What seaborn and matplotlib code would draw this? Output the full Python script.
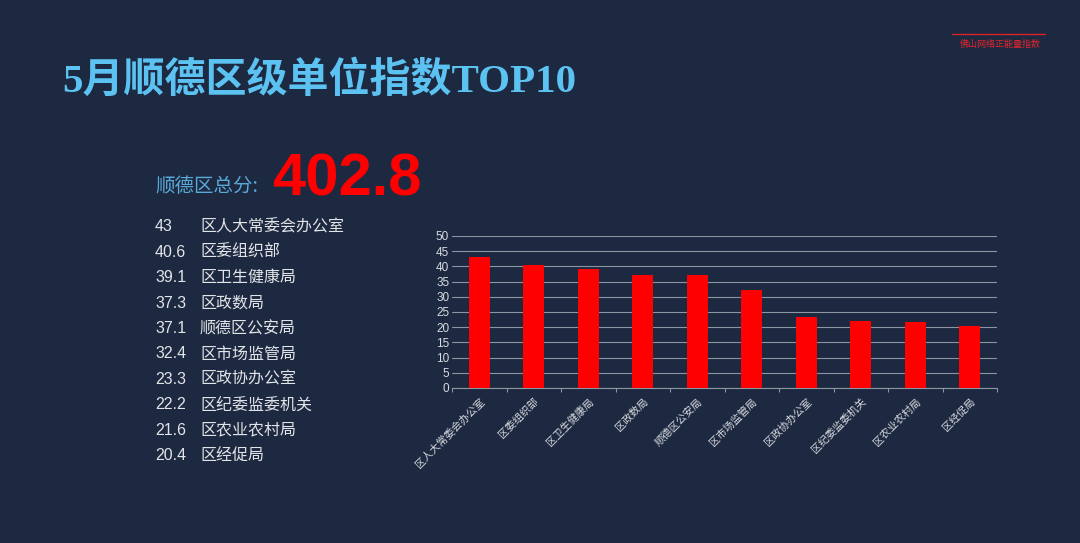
import numpy as np
import pandas as pd
import matplotlib
matplotlib.use("Agg")
import matplotlib.pyplot as plt
import seaborn as sns

units = ["区人大常委会办公室", "区委组织部", "区卫生健康局", "区政数局", "顺德区公安局",
         "区市场监管局", "区政协办公室", "区纪委监委机关", "区农业农村局", "区经促局"]
scores = [43, 40.6, 39.1, 37.3, 37.1, 32.4, 23.3, 22.2, 21.6, 20.4]
score_labels = ["43", "40.6", "39.1", "37.3", "37.1", "32.4", "23.3", "22.2", "21.6", "20.4"]
total = "402.8"
yticks = [0, 5, 10, 15, 20, 25, 30, 35, 40, 45, 50]

sns.set_theme(style="dark")
plt.rcParams['font.family'] = ['Noto Sans CJK SC', 'DejaVu Sans']
bg = "#1d2940"
fig = plt.figure(figsize=(10.8, 5.43), dpi=100, facecolor=bg)

# Title
fig.text(62/1080, 1-81/543, "5月顺德区级单位指数TOP10", color="#5cc2f2", fontsize=29.5,
         fontweight="bold", va="center", ha="left",
         family=["Liberation Serif", "Noto Sans CJK SC"])
# top-right brand
fig.add_artist(plt.Line2D([952/1080, 1045/1080], [1-34/543, 1-34/543], color="#d8232a", lw=1.0))
fig.text(1000/1080, 1-44/543, "佛山网络正能量指数", color="#e0262e", fontsize=6.5,
         va="center", ha="center")

# total
fig.text(155/1080, 1-187/543, "顺德区总分:", color="#5aa8d8", fontsize=14, va="center", ha="left")
fig.text(272/1080, 1-180/543, total, color="#ff0000", fontsize=43, fontweight="bold",
         va="center", ha="left", family=["Liberation Sans", "DejaVu Sans"])

# list
for i, (s, u) in enumerate(zip(score_labels, units)):
    y = 1 - (227 + i * 25.4) / 543
    fig.text(155/1080, y, s, color="#e2e4e8", fontsize=11.5, va="center", ha="left",
             family=["Liberation Sans", "DejaVu Sans"])
    fig.text(200/1080, y, u, color="#e2e4e8", fontsize=11.5, va="center", ha="left")

# bar chart
ax = fig.add_axes([452/1080, 1-388/543, (997-452)/1080, (388-236)/543])
ax.set_facecolor(bg)
df = pd.DataFrame({"unit": units, "score": scores})
sns.barplot(data=df, x="unit", y="score", color="#ff0000", width=0.39, saturation=1,
            ax=ax, zorder=3, linewidth=0, edgecolor="none")
ax.set_ylim(0, 50)
ax.set_xlim(-0.5, len(units) - 0.5)
ax.set_yticks(yticks)
ax.set_yticklabels([str(v) for v in yticks], color="#d8dbe0", fontsize=8.5,
                   family=["Liberation Sans", "DejaVu Sans"])
ax.grid(axis="y", color="#8c95a3", lw=0.8, zorder=0)
ax.grid(axis="x", visible=False)
ax.set_xticks(range(len(units)))
ax.set_xticklabels(units, rotation=45, ha="right", rotation_mode="anchor",
                   color="#d8dbe0", fontsize=7.5)
ax.tick_params(axis="x", which="major", length=0, pad=6)
ax.tick_params(axis="y", length=0, pad=2)
ax.set_xticks(np.arange(-0.5, len(units), 1.0), minor=True)
ax.tick_params(axis="x", which="minor", length=3, color="#8c95a3", width=0.8, bottom=True)
ax.set_xlabel("")
ax.set_ylabel("")
for sp in ["top", "right", "left"]:
    ax.spines[sp].set_visible(False)
ax.spines["bottom"].set_color("#8c95a3")
ax.spines["bottom"].set_linewidth(0.8)

fig.savefig("out.png", dpi=100, facecolor=bg)
